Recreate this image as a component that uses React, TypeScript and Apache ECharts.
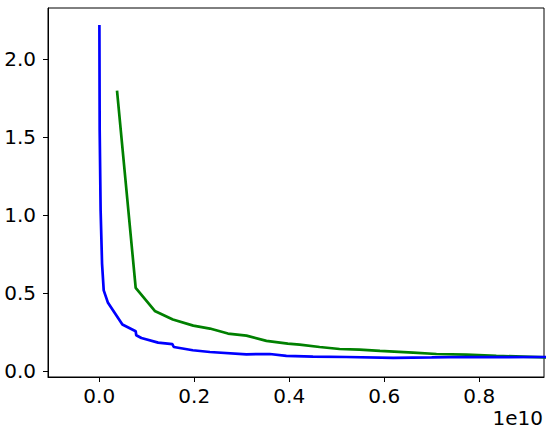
import React, { useEffect, useRef } from "react";
import * as echarts from "echarts";

// x values are in units of 1e10 (axis offset label "1e10")
const blueX = [0.0004, 0.001, 0.003, 0.006, 0.0095, 0.0185, 0.0488, 0.0768, 0.078, 0.0888, 0.124, 0.154, 0.157, 0.197, 0.233, 0.31, 0.359, 0.394, 0.45, 0.52, 0.619, 0.7, 0.773, 0.85, 0.95];
const blueY = [2.22, 1.55, 1.03, 0.69, 0.52, 0.44, 0.301, 0.258, 0.232, 0.215, 0.185, 0.175, 0.157, 0.136, 0.125, 0.11, 0.112, 0.1, 0.095, 0.093, 0.087, 0.09, 0.093, 0.092, 0.093];

const greenX = [0.0375, 0.0768, 0.117, 0.155, 0.198, 0.233, 0.271, 0.31, 0.352, 0.397, 0.422, 0.464, 0.506, 0.548, 0.591, 0.661, 0.71, 0.773, 0.836, 0.95];
const greenY = [1.8, 0.536, 0.388, 0.333, 0.294, 0.275, 0.243, 0.23, 0.196, 0.179, 0.172, 0.157, 0.144, 0.14, 0.132, 0.121, 0.112, 0.108, 0.1, 0.09];

const xTicks = [0, 0.2, 0.4, 0.6, 0.8];
const yTicks = [0, 0.5, 1.0, 1.5, 2.0];

const FONT = "DejaVu Sans";

export default function App() {
  const ref = useRef<HTMLDivElement>(null);
  useEffect(() => {
    if (!ref.current) return;
    const chart = echarts.init(ref.current, null, { renderer: "svg" });
    const pair = (xs: number[], ys: number[]) => xs.map((x, i) => [x, ys[i]]);
    chart.setOption({
      animation: false,
      backgroundColor: "#ffffff",
      grid: {
        left: 48,
        top: 8,
        right: 8,
        bottom: 59,
        show: true,
        borderColor: "#000",
        borderWidth: 1,
        backgroundColor: "transparent",
      },
      xAxis: {
        type: "value",
        min: -0.1078,
        max: 0.9364,
        splitLine: { show: false },
        axisLine: { show: true, onZero: false, lineStyle: { color: "#000", width: 1 } },
        axisTick: { show: true, customValues: xTicks, length: 5, lineStyle: { color: "#000", width: 1 } },
        axisLabel: {
          customValues: xTicks,
          formatter: (v: number) => v.toFixed(1),
          color: "#000",
          fontFamily: FONT,
          fontSize: 20,
          margin: 9,
        },
      },
      yAxis: {
        type: "value",
        min: -0.0353,
        max: 2.329,
        splitLine: { show: false },
        axisLine: { show: true, onZero: false, lineStyle: { color: "#000", width: 1 } },
        axisTick: { show: true, customValues: yTicks, length: 5, lineStyle: { color: "#000", width: 1 } },
        axisLabel: {
          customValues: yTicks,
          formatter: (v: number) => v.toFixed(1),
          color: "#000",
          fontFamily: FONT,
          fontSize: 20,
          margin: 12,
        },
      },
      graphic: [
        {
          type: "text",
          right: 9,
          top: 408,
          style: { text: "1e10", fill: "#000", font: `20px "${FONT}"` },
        },
      ],
      series: [
        {
          type: "line",
          data: pair(blueX, blueY),
          showSymbol: false,
          symbol: "none",
          clip: true,
          lineStyle: { color: "#0000ff", width: 2.7 },
          itemStyle: { color: "#0000ff" },
          z: 3,
        },
        {
          type: "line",
          data: pair(greenX, greenY),
          showSymbol: false,
          symbol: "none",
          clip: true,
          lineStyle: { color: "#008000", width: 2.7 },
          itemStyle: { color: "#008000" },
          z: 2,
        },
      ],
    });
    return () => chart.dispose();
  }, []);
  return (
    <div
      ref={ref}
      style={{ position: "absolute", left: 0, top: 0, width: 552, height: 436 }}
    />
  );
}
